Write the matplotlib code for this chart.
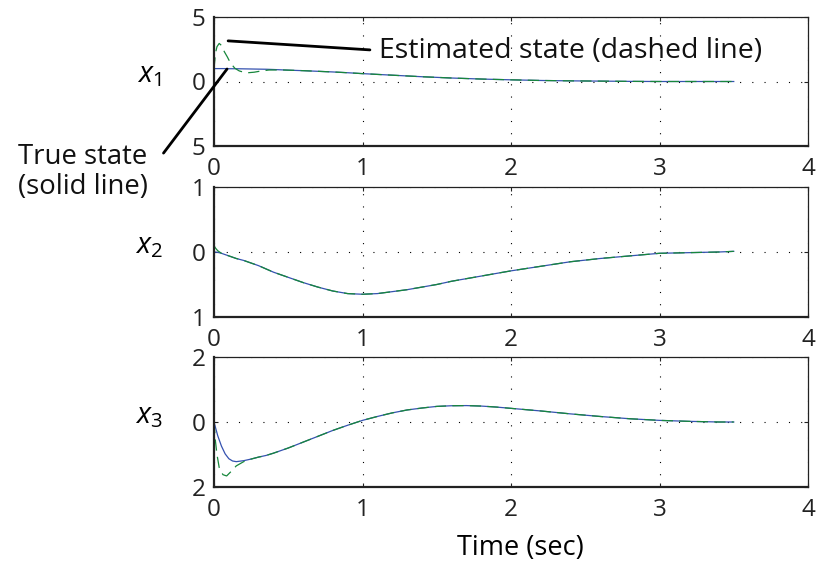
import matplotlib
matplotlib.use('Agg')
import matplotlib.pyplot as plt

# ---- data ----
t = [0, 0.025, 0.05, 0.075, 0.1, 0.125, 0.15, 0.2, 0.25, 0.3, 0.35, 0.4, 0.5,
     0.6, 0.7, 0.8, 0.9, 1.0, 1.1, 1.2, 1.3, 1.4, 1.5, 1.6, 1.7, 1.8, 1.9, 2.0,
     2.2, 2.4, 2.6, 2.8, 3.0, 3.2, 3.4, 3.5]

x1_true = [1.0, 1.0, 1.0, 1.0, 0.99, 0.99, 0.99, 0.98, 0.97, 0.96, 0.95, 0.93,
           0.88, 0.84, 0.79, 0.74, 0.68, 0.61, 0.55, 0.49, 0.43, 0.37, 0.32,
           0.27, 0.23, 0.19, 0.16, 0.13, 0.08, 0.05, 0.03, 0.01, 0.0, 0.0, 0.0,
           0.0]
x2_true = [0.0, -0.005, -0.02, -0.04, -0.06, -0.08, -0.1, -0.13, -0.17, -0.21,
           -0.26, -0.31, -0.39, -0.47, -0.54, -0.6, -0.64, -0.65, -0.64, -0.61,
           -0.58, -0.54, -0.5, -0.45, -0.41, -0.37, -0.33, -0.29, -0.22, -0.15,
           -0.1, -0.06, -0.02, -0.01, 0.0, 0.01]
x3_true = [0.0, -0.42, -0.74, -0.98, -1.13, -1.2, -1.22, -1.19, -1.14, -1.08,
           -1.03, -0.96, -0.8, -0.62, -0.44, -0.26, -0.1, 0.05, 0.17, 0.28,
           0.37, 0.43, 0.48, 0.5, 0.505, 0.49, 0.46, 0.42, 0.34, 0.25, 0.17,
           0.1, 0.05, 0.02, 0.0, 0.0]

# estimator transients (after these it sits on the true state)
t1_head = [0, 0.005, 0.01, 0.02, 0.035, 0.05, 0.07, 0.09, 0.11, 0.14, 0.17,
           0.2, 0.23, 0.27, 0.32, 0.37, 0.45]
x1_head = [1.0, 1.6, 2.2, 2.7, 2.95, 2.8, 2.3, 1.9, 1.45, 1.03, 0.82, 0.72,
           0.68, 0.72, 0.82, 0.89, 0.9]
t2_head = [0, 0.01, 0.025]
x2_head = [0.1, 0.06, 0.02]
t3_head = [0, 0.005, 0.01, 0.02, 0.035, 0.06, 0.085, 0.12, 0.15, 0.2, 0.25,
           0.3, 0.35]
x3_head = [0, -0.3, -0.6, -1.0, -1.4, -1.62, -1.66, -1.5, -1.35, -1.22, -1.14,
           -1.08, -1.03]

x1_est_t = t1_head + t[12:]
x1_est = x1_head + x1_true[12:]
x2_est_t = t2_head + t[2:]
x2_est = x2_head + x2_true[2:]
x3_est_t = t3_head + t[11:]
x3_est = x3_head + x3_true[11:]

ylims = [(-5, 5), (-1, 1), (-2, 2)]
yticks = [[-5, 0, 5], [-1, 0, 1], [-2, 0, 2]]
yticklabels = [['5', '0', '5'], ['1', '0', '1'], ['2', '0', '2']]
ylabels = [r'$x_1$', r'$x_2$', r'$x_3$']
xticks = [0, 1, 2, 3, 4]

BLUE = '#3552b0'
GREEN = '#17873c'

plt.rcParams['font.family'] = ['Open Sans', 'DejaVu Sans']
plt.rcParams['mathtext.fontset'] = 'custom'
plt.rcParams['mathtext.it'] = 'Open Sans:italic'
plt.rcParams['mathtext.rm'] = 'Open Sans'

fig = plt.figure(figsize=(8.17, 5.61), dpi=100)
W, H = 817, 561
boxes = [(17, 146), (187, 317), (357, 487)]
left, right = 214, 808

true_series = [x1_true, x2_true, x3_true]
est_series = [(x1_est_t, x1_est), (x2_est_t, x2_est), (x3_est_t, x3_est)]
axes = []
for i, (top, bot) in enumerate(boxes):
    ax = fig.add_axes([left / W, 1 - bot / H, (right - left) / W, (bot - top) / H])
    ax.plot(t, true_series[i], color=BLUE, lw=0.9)
    et, ev = est_series[i]
    ax.plot(et, ev, color=GREEN, lw=0.9, linestyle=(0, (9, 5)))
    ax.set_xlim(0, 4)
    ax.set_ylim(*ylims[i])
    ax.set_xticks(xticks)
    ax.set_yticks(yticks[i])
    ax.set_yticklabels(yticklabels[i])
    ax.tick_params(direction='in', length=3, width=0.8, top=True, right=True,
                   labelsize=17.5, colors='#222222')
    ax.tick_params(axis='x', pad=8)
    ax.tick_params(axis='y', pad=6)
    ax.grid(True, color='black', linestyle=(0, (1, 10)), linewidth=0.8)
    for s in ['left', 'bottom']:
        ax.spines[s].set_linewidth(1.6)
    for s in ['top', 'right']:
        ax.spines[s].set_linewidth(0.9)
    for s in ax.spines.values():
        s.set_color('#222222')
    ax.set_ylabel(ylabels[i], rotation=0, fontsize=21, va='center', ha='center')
    ax.yaxis.set_label_coords(-0.11, 0.55)
    axes.append(ax)

axes[2].set_xlabel('Time (sec)', fontsize=19.5)
axes[2].xaxis.set_label_coords(0.515, -0.36)

# annotations
ax = axes[0]
ax.annotate('', xy=(0.095, 3.15), xytext=(1.05, 2.45), annotation_clip=False,
            arrowprops=dict(arrowstyle='-', color='black', lw=2,
                            shrinkA=0, shrinkB=0))
ax.text(1.11, 2.4, 'Estimated state (dashed line)', fontsize=20.5,
        ha='left', va='center', color='#111111')
ax.annotate('', xy=(0.088, 0.97), xytext=(-0.34, -5.55), annotation_clip=False,
            arrowprops=dict(arrowstyle='-', color='black', lw=2,
                            shrinkA=0, shrinkB=0))
fig.text(83 / W, 1 - 172 / H, 'True state\n(solid line)', fontsize=19.8,
         ha='center', va='center', linespacing=1.1, color='#111111')

fig.savefig('out.png', dpi=100)
